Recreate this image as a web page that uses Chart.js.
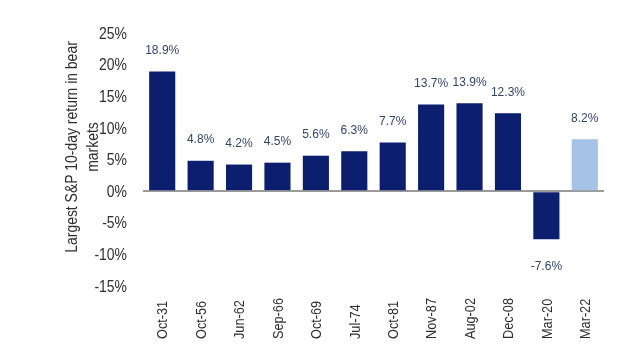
<!DOCTYPE html>
<html>
<head>
<meta charset="utf-8">
<script src="https://cdn.jsdelivr.net/npm/chart.js@4.4.1/dist/chart.umd.min.js"></script>
<style>
  html, body { margin: 0; padding: 0; background: #fff; }
  #wrap { width: 620px; height: 349px; }
</style>
</head>
<body>
<div id="wrap"><canvas id="chart"></canvas></div>
<script>
const periods = ['Oct-31', 'Oct-56', 'Jun-62', 'Sep-66', 'Oct-69', 'Jul-74', 'Oct-81', 'Nov-87', 'Aug-02', 'Dec-08', 'Mar-20', 'Mar-22'];
const returns = [18.9, 4.8, 4.2, 4.5, 5.6, 6.3, 7.7, 13.7, 13.9, 12.3, -7.6, 8.2];
const axisTitle = ['Largest S&P 10-day return in bear', 'markets'];

const NAVY = '#0b1f6e';
const LIGHT = '#a5c3e7';
const SANS = '"Liberation Sans", Arial, sans-serif';
// no narrow face installed, so axis text is squeezed horizontally
const SQUEEZE = 0.82;

// last bar (current market) is highlighted in light blue
const barColors = periods.map((p, i) => i === periods.length - 1 ? LIGHT : NAVY);

function narrowText(ctx, text, x, y, angle) {
  ctx.save();
  ctx.translate(x, y);
  if (angle) ctx.rotate(angle);
  ctx.scale(SQUEEZE, 1);
  ctx.fillText(text, 0, 0);
  ctx.restore();
}

const annotate = {
  id: 'annotate',
  afterDatasetsDraw(chart) {
    const ctx = chart.ctx;
    const meta = chart.getDatasetMeta(0);
    ctx.save();

    // value labels above (or below) each bar
    ctx.font = '12px ' + SANS;
    ctx.fillStyle = '#33446a';
    ctx.textAlign = 'center';
    ctx.textBaseline = 'middle';
    meta.data.forEach((bar, i) => {
      const v = returns[i];
      const y = v >= 0 ? bar.y - 21 : bar.y + 27;
      ctx.fillText(v.toFixed(1) + '%', bar.x, y);
    });

    // y tick labels
    const ys = chart.scales.y;
    ctx.font = '17px ' + SANS;
    ctx.fillStyle = '#2e2e2e';
    ctx.textAlign = 'right';
    ctx.textBaseline = 'middle';
    ys.ticks.forEach(t => {
      narrowText(ctx, t.value + '%', 127, ys.getPixelForValue(t.value) + 1);
    });

    // category labels, rotated, reading upward from a common baseline
    const xs = chart.scales.x;
    ctx.font = '15.5px ' + SANS;
    ctx.textAlign = 'left';
    periods.forEach((p, i) => {
      narrowText(ctx, p, xs.getPixelForTick(i) + 1, 339, -Math.PI / 2);
    });

    // y axis title, two lines
    ctx.font = '17px ' + SANS;
    ctx.textAlign = 'center';
    ctx.textBaseline = 'alphabetic';
    axisTitle.forEach((line, i) => {
      narrowText(ctx, line, 77 + i * 21, 147, -Math.PI / 2);
    });

    ctx.restore();
  }
};

new Chart(document.getElementById('chart'), {
  type: 'bar',
  data: {
    labels: periods,
    datasets: [{
      data: returns,
      backgroundColor: barColors,
      borderWidth: 0,
      barPercentage: 0.68,
      categoryPercentage: 1
    }]
  },
  options: {
    responsive: true,
    maintainAspectRatio: false,
    animation: false,
    layout: { padding: { top: 33, right: 16, bottom: 0, left: 0 } },
    plugins: {
      legend: { display: false },
      tooltip: { enabled: false }
    },
    scales: {
      x: {
        ticks: { display: false },
        grid: { display: false },
        border: { display: false },
        afterFit(scale) { scale.height = 63; }
      },
      y: {
        min: -15,
        max: 25,
        ticks: { stepSize: 5, display: false },
        grid: {
          drawTicks: false,
          lineWidth: 2,
          color: ctx => ctx.tick && ctx.tick.value === 0 ? '#9a9a9a' : 'rgba(0,0,0,0)'
        },
        border: { display: false },
        afterFit(scale) { scale.width = 143; }
      }
    }
  },
  plugins: [annotate]
});
</script>
</body>
</html>
